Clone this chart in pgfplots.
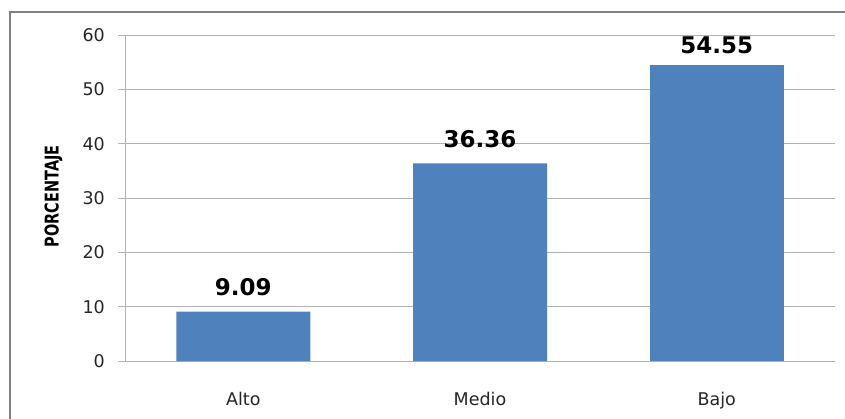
\documentclass[border=0pt]{standalone}
\usepackage{fontspec}
\setmainfont{DejaVu Sans}
\usepackage{graphicx}
\usepackage{pgfplots}
\pgfplotsset{compat=1.18}
\definecolor{barblue}{RGB}{79,129,189}
\definecolor{gridgray}{RGB}{178,178,178}
\definecolor{framegray}{RGB}{128,128,128}
\begin{document}
\begin{tikzpicture}[x=1pt,y=1pt]
\path[use as bounding box] (0,0) rectangle (845,418);
\draw[framegray, line width=1.4pt] (10,-5) -- (10,406) -- (850,406);
\begin{axis}[
  at={(125pt,57pt)}, anchor=south west,
  scale only axis, width=710pt, height=326pt,
  xmin=-0.5, xmax=2.5, ymin=0, ymax=60,
  xtick={0,1,2}, xticklabels={Alto,Medio,Bajo},
  ytick={0,10,...,60},
  ymajorgrids, grid style={gridgray, line width=0.9pt},
  axis x line*=bottom, axis y line*=left,
  axis line style={gridgray, line width=0.9pt},
  xtick style={draw=none},
  ytick style={gridgray, line width=0.9pt},
  major tick length=7pt, tick align=outside,
  /pgf/number format/assume math mode=true,
  yticklabel style={font=\fontsize{17.5}{17.5}\selectfont, text=black!85, anchor=east, inner sep=0pt, xshift=-13pt},
  xticklabel style={font=\fontsize{17.5}{17.5}\selectfont, text=black!85, anchor=base, inner sep=0pt, yshift=-37pt},
  ylabel={\scalebox{0.76}[1]{PORCENTAJE}},
  ylabel style={font=\bfseries\fontsize{19}{19}\selectfont, at={(axis description cs:-0.1007,0.505)}, anchor=center},
  ybar, bar width=134pt, bar shift=0pt,
  point meta=explicit symbolic,
  nodes near coords,
  every node near coord/.append style={font=\bfseries\fontsize{23}{23}\selectfont, text=black, inner sep=0pt, anchor=base},
]
\addplot[fill=barblue, draw=none, every node near coord/.append style={yshift=16pt}] coordinates {(0,9.09) [9.09] (1,36.36) [36.36]};
\addplot[fill=barblue, draw=none, every node near coord/.append style={yshift=11.6pt}] coordinates {(2,54.55) [54.55]};
\end{axis}
\end{tikzpicture}
\end{document}
